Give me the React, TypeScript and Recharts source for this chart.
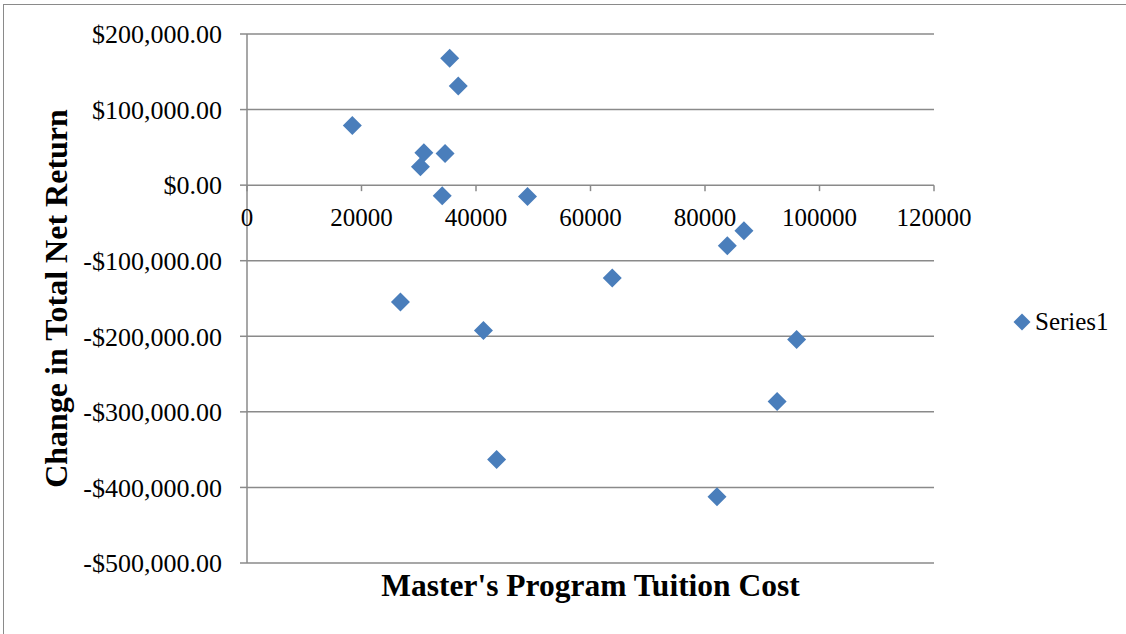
import {
  CartesianGrid,
  Legend,
  ReferenceDot,
  Scatter,
  ScatterChart,
  XAxis,
  YAxis,
} from 'recharts';

// tuition cost of each master's program and the change in total net return
const tuitionCost = [
  18400, 35400, 36900, 30900, 34600, 30300, 34100, 49000, 63800,
  83900, 86800, 26800, 41300, 96000, 92600, 43600, 82100,
];
const netReturnChange = [
  79000, 168000, 131200, 42700, 41800, 24200, -14000, -14900, -122800,
  -80300, -60400, -154600, -192500, -204200, -286200, -362900, -412300,
];

const xTicks = [0, 20000, 40000, 60000, 80000, 100000, 120000];
const yTicks = [200000, 100000, 0, -100000, -200000, -300000, -400000, -500000];

const seriesName = 'Series1';

const FONT = '"Liberation Serif", "Times New Roman", serif';
const BLUE = '#4a7ebb';
const GRID = '#8a8a8a';

const points = tuitionCost.map((x, i) => ({ x, y: netReturnChange[i] }));

const money = (v: number) =>
  (v < 0 ? '-$' : '$') +
  Math.abs(v).toLocaleString('en-US', { minimumFractionDigits: 2, maximumFractionDigits: 2 });

const Diamond = (props: any) => {
  const { cx, cy } = props;
  const h = 9.5;
  return (
    <polygon
      points={`${cx},${cy - h} ${cx + h},${cy} ${cx},${cy + h} ${cx - h},${cy}`}
      fill={BLUE}
    />
  );
};

// small downward tick mark on the zero line
const XTickMark = (props: any) => {
  const { cx, cy } = props;
  return <line x1={cx} y1={cy} x2={cx} y2={cy + 6} stroke={GRID} strokeWidth={1.5} />;
};

const LegendBox = () => (
  <div style={{ display: 'flex', alignItems: 'center', fontFamily: FONT, fontSize: 25, color: '#000' }}>
    <svg width={18} height={18} style={{ display: 'block' }}>
      <polygon points="9,0.5 17.5,9 9,17.5 0.5,9" fill={BLUE} />
    </svg>
    <span style={{ marginLeft: 4, lineHeight: '28px' }}>{seriesName}</span>
  </div>
);

const TuitionReturnChart = () => {
  return (
    <div
      style={{
        position: 'absolute',
        left: 0,
        top: 0,
        width: 1126,
        height: 634,
        background: '#fff',
        fontFamily: FONT,
      }}
    >
      <div
        style={{
          position: 'absolute',
          left: 3,
          top: 4,
          right: 0,
          bottom: 0,
          borderLeft: `1.5px solid ${GRID}`,
          borderTop: `1.5px solid ${GRID}`,
        }}
      />
      <ScatterChart
        width={1126}
        height={634}
        margin={{ top: 34, right: 192, left: 22, bottom: 11 }}
        style={{ fontFamily: FONT }}
      >
        <CartesianGrid vertical={false} stroke={GRID} strokeWidth={1.5} />
        <XAxis
          type="number"
          dataKey="x"
          domain={[0, 120000]}
          ticks={xTicks}
          axisLine={false}
          tickLine={false}
          tick={false}
          height={60}
          label={{
            value: "Master's Program Tuition Cost",
            position: 'insideTop',
            offset: 11,
            style: { fontFamily: FONT, fontSize: 31.5, fontWeight: 'bold', fill: '#000' },
          }}
        />
        <YAxis
          type="number"
          dataKey="y"
          domain={[-500000, 200000]}
          ticks={yTicks}
          width={225}
          interval={0}
          tickFormatter={money}
          tickSize={7}
          tickMargin={18}
          axisLine={{ stroke: GRID, strokeWidth: 1.5 }}
          tickLine={{ stroke: GRID, strokeWidth: 1.5 }}
          tick={{ fill: '#000', fontSize: 26, fontFamily: FONT }}
          label={{
            value: 'Change in Total Net Return',
            angle: -90,
            position: 'insideLeft',
            offset: 34,
            style: { textAnchor: 'middle', fontFamily: FONT, fontSize: 32, fontWeight: 'bold', fill: '#000' },
          }}
        />
        {xTicks.map((t) => (
          <ReferenceDot
            key={t}
            x={t}
            y={0}
            r={0}
            shape={XTickMark}
            label={{
              value: String(t),
              position: 'bottom',
              offset: 23,
              style: { fontFamily: FONT, fontSize: 25, fill: '#000' },
            }}
          />
        ))}
        <Scatter name={seriesName} data={points} shape={Diamond} fill={BLUE} isAnimationActive={false} />
        <Legend
          layout="vertical"
          align="center"
          verticalAlign="middle"
          wrapperStyle={{ left: 1013, top: 308 }}
          content={LegendBox}
        />
      </ScatterChart>
    </div>
  );
};

export default TuitionReturnChart;
